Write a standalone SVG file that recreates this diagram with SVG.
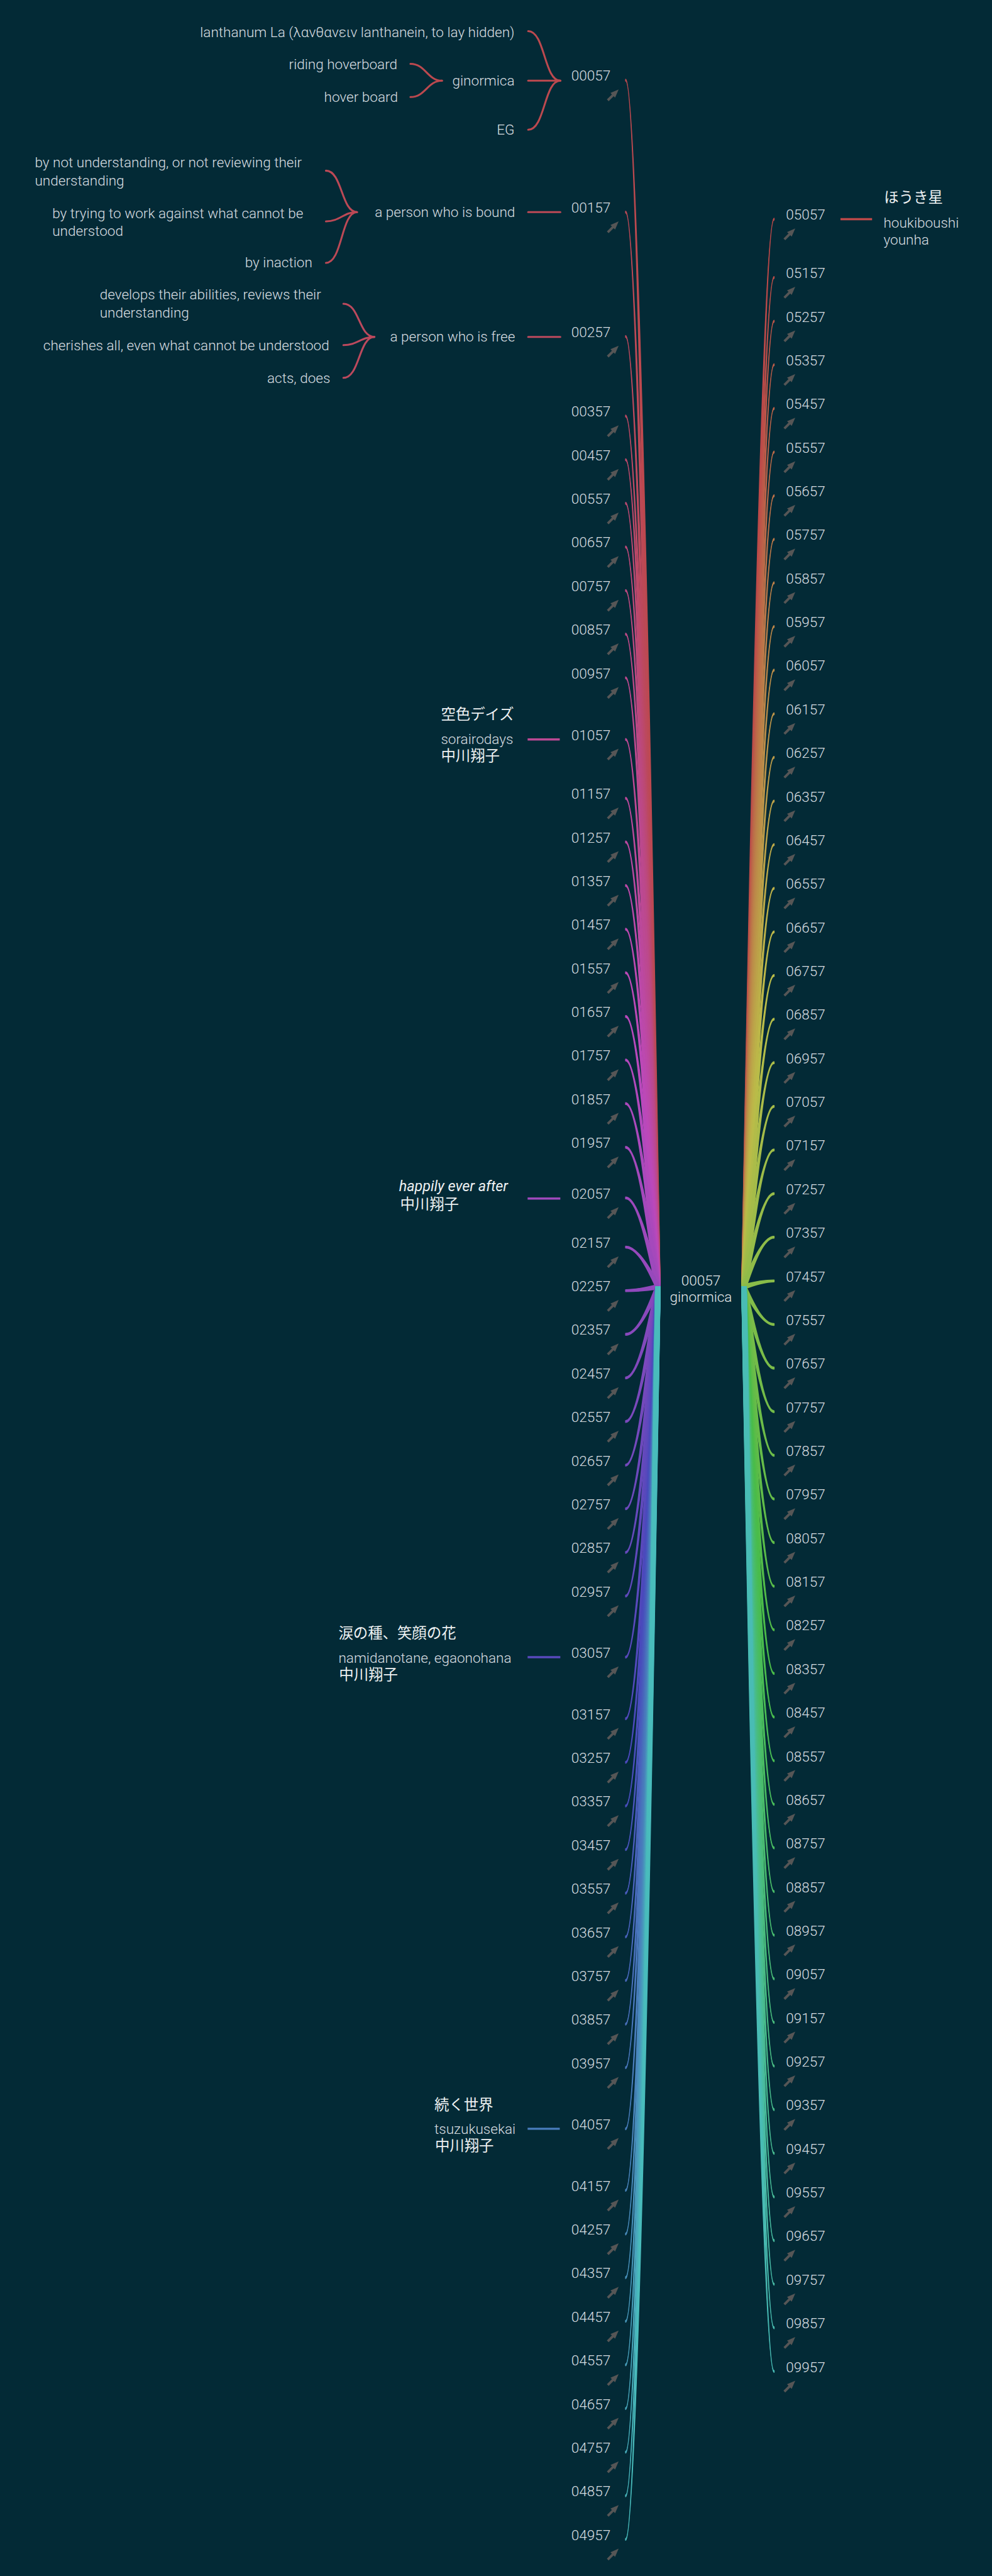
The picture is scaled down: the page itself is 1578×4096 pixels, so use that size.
<svg xmlns="http://www.w3.org/2000/svg" width="1578" height="4096" viewBox="0 0 1578 4096">
<style>
.t{font-family:Roboto,"Liberation Sans",sans-serif;font-weight:300;font-size:26px;fill:#d8dee1}
.c{font-family:Roboto,"Liberation Sans",sans-serif;font-weight:300;font-size:26px;fill:#e2e7e9;text-anchor:middle}
.j{font-family:"Noto Sans CJK JP",sans-serif;font-size:27px;fill:#eef1f2}
.i{font-family:Roboto,"Liberation Sans",sans-serif;font-style:italic;font-size:27px;fill:#eef1f2}
.e{text-anchor:end}
.cv path{fill:currentColor;stroke:currentColor;stroke-width:2.2;stroke-linejoin:round}
.br{fill:none;stroke-width:3.5;stroke-linecap:round}
.ln{fill:none;stroke-width:4}
</style>
<defs>
<path id="ic" fill="#565656" d="M23 0L8 6.5L10.65 9.15L1.45 18.35L4.65 21.55L13.85 12.35L16.5 15Z"/>
</defs>
<rect width="1578" height="4096" fill="#032a36"/>
<g transform="scale(0.86703)">
<g id="connectors">
<g class="cv">
<path color="hsl(356.4,46%,51%)" d="M1203 2360C1186.3 1253.5 1168.7 148.5 1148 148.5L1148 145.5C1168.7 145.5 1192.3 1253.5 1211 2360Z"/>
<path color="hsl(352.8,46%,51%)" d="M1203 2360C1186.3 1374.5 1168.7 390.5 1148 390.5L1148 387.5C1168.7 387.5 1192.3 1374.5 1211 2360Z"/>
<path color="hsl(349.2,46%,51%)" d="M1203 2360C1186.3 1488.5 1168.7 618.5 1148 618.5L1148 615.5C1168.7 615.5 1192.3 1488.5 1211 2360Z"/>
<path color="hsl(345.6,46%,51%)" d="M1203 2360C1186.3 1561.5 1168.7 764.5 1148 764.5L1148 761.5C1168.7 761.5 1192.3 1561.5 1211 2360Z"/>
<path color="hsl(342,46%,51%)" d="M1203 2360C1186.3 1601.5 1168.7 844.5 1148 844.5L1148 841.5C1168.7 841.5 1192.3 1601.5 1211 2360Z"/>
<path color="hsl(338.4,46%,51%)" d="M1203 2360C1186.3 1641.5 1168.7 924.5 1148 924.5L1148 921.5C1168.7 921.5 1192.3 1641.5 1211 2360Z"/>
<path color="hsl(334.8,46%,51%)" d="M1203 2360C1186.3 1681.5 1168.7 1004.5 1148 1004.5L1148 1001.5C1168.7 1001.5 1192.3 1681.5 1211 2360Z"/>
<path color="hsl(331.2,46%,51%)" d="M1203 2360C1186.3 1721.5 1168.7 1084.5 1148 1084.5L1148 1081.5C1168.7 1081.5 1192.3 1721.5 1211 2360Z"/>
<path color="hsl(327.6,46%,51%)" d="M1203 2360C1186.3 1761.5 1168.7 1164.5 1148 1164.5L1148 1161.5C1168.7 1161.5 1192.3 1761.5 1211 2360Z"/>
<path color="hsl(324,46%,51%)" d="M1203 2360C1186.3 1801.5 1168.7 1244.5 1148 1244.5L1148 1241.5C1168.7 1241.5 1192.3 1801.5 1211 2360Z"/>
<path color="hsl(320.4,46%,51%)" d="M1203 2360C1186.3 1858 1168.7 1357.5 1148 1357.5L1148 1354.5C1168.7 1354.5 1192.3 1858 1211 2360Z"/>
<path color="hsl(316.8,46%,51%)" d="M1203 2360C1186.3 1912 1168.7 1465.5 1148 1465.5L1148 1462.5C1168.7 1462.5 1192.3 1912 1211 2360Z"/>
<path color="hsl(313.2,46%,51%)" d="M1203 2360C1186.3 1952 1168.7 1545.5 1148 1545.5L1148 1542.5C1168.7 1542.5 1192.3 1952 1211 2360Z"/>
<path color="hsl(309.6,46%,51%)" d="M1203 2360C1186.3 1992 1168.7 1625.5 1148 1625.5L1148 1622.5C1168.7 1622.5 1192.3 1992 1211 2360Z"/>
<path color="hsl(306,46%,51%)" d="M1203 2360C1186.3 2032 1168.7 1705.5 1148 1705.5L1148 1702.5C1168.7 1702.5 1192.3 2032 1211 2360Z"/>
<path color="hsl(302.4,46%,51%)" d="M1203 2360C1186.3 2072 1168.7 1785.5 1148 1785.5L1148 1782.5C1168.7 1782.5 1192.3 2072 1211 2360Z"/>
<path color="hsl(298.8,46%,51%)" d="M1203 2360C1186.3 2112 1168.7 1865.5 1148 1865.5L1148 1862.5C1168.7 1862.5 1192.3 2112 1211 2360Z"/>
<path color="hsl(295.2,46%,51%)" d="M1203 2360C1186.3 2152 1168.7 1945.5 1148 1945.5L1148 1942.5C1168.7 1942.5 1192.3 2152 1211 2360Z"/>
<path color="hsl(291.6,46%,51%)" d="M1203 2360C1186.3 2192 1168.7 2025.5 1148 2025.5L1148 2022.5C1168.7 2022.5 1192.3 2192 1211 2360Z"/>
<path color="hsl(288,46%,51%)" d="M1203 2360C1186.3 2232 1168.7 2105.5 1148 2105.5L1148 2102.5C1168.7 2102.5 1192.3 2232 1211 2360Z"/>
<path color="hsl(284.4,46%,51%)" d="M1203 2360C1186.3 2278.5 1168.7 2198.5 1148 2198.5L1148 2195.5C1168.7 2195.5 1192.3 2278.5 1211 2360Z"/>
<path color="hsl(280.8,46%,51%)" d="M1203 2360C1186.3 2323.5 1168.7 2288.5 1148 2288.5L1148 2285.5C1168.7 2285.5 1192.3 2323.5 1211 2360Z"/>
<path color="hsl(277.2,46%,51%)" d="M1207 2356C1189.3 2360.5 1168.7 2365.5 1148 2365.5L1148 2368.5C1168.7 2368.5 1189.3 2366.5 1207 2364Z"/>
<path color="hsl(273.6,46%,51%)" d="M1211 2360C1192.3 2403.5 1168.7 2448.5 1148 2448.5L1148 2445.5C1168.7 2445.5 1186.3 2403.5 1203 2360Z"/>
<path color="hsl(270,46%,51%)" d="M1211 2360C1192.3 2443.5 1168.7 2528.5 1148 2528.5L1148 2525.5C1168.7 2525.5 1186.3 2443.5 1203 2360Z"/>
<path color="hsl(266.4,46%,51%)" d="M1211 2360C1192.3 2483.5 1168.7 2608.5 1148 2608.5L1148 2605.5C1168.7 2605.5 1186.3 2483.5 1203 2360Z"/>
<path color="hsl(262.8,46%,51%)" d="M1211 2360C1192.3 2523.5 1168.7 2688.5 1148 2688.5L1148 2685.5C1168.7 2685.5 1186.3 2523.5 1203 2360Z"/>
<path color="hsl(259.2,46%,51%)" d="M1211 2360C1192.3 2563.5 1168.7 2768.5 1148 2768.5L1148 2765.5C1168.7 2765.5 1186.3 2563.5 1203 2360Z"/>
<path color="hsl(255.6,46%,51%)" d="M1211 2360C1192.3 2603.5 1168.7 2848.5 1148 2848.5L1148 2845.5C1168.7 2845.5 1186.3 2603.5 1203 2360Z"/>
<path color="hsl(252,46%,51%)" d="M1211 2360C1192.3 2643.5 1168.7 2928.5 1148 2928.5L1148 2925.5C1168.7 2925.5 1186.3 2643.5 1203 2360Z"/>
<path color="hsl(248.4,46%,51%)" d="M1211 2360C1192.3 2699.5 1168.7 3040.5 1148 3040.5L1148 3037.5C1168.7 3037.5 1186.3 2699.5 1203 2360Z"/>
<path color="hsl(244.8,46%,51%)" d="M1211 2360C1192.3 2756 1168.7 3153.5 1148 3153.5L1148 3150.5C1168.7 3150.5 1186.3 2756 1203 2360Z"/>
<path color="hsl(241.2,46%,51%)" d="M1211 2360C1192.3 2796 1168.7 3233.5 1148 3233.5L1148 3230.5C1168.7 3230.5 1186.3 2796 1203 2360Z"/>
<path color="hsl(237.6,46%,51%)" d="M1211 2360C1192.3 2836 1168.7 3313.5 1148 3313.5L1148 3310.5C1168.7 3310.5 1186.3 2836 1203 2360Z"/>
<path color="hsl(234,46%,51%)" d="M1211 2360C1192.3 2876 1168.7 3393.5 1148 3393.5L1148 3390.5C1168.7 3390.5 1186.3 2876 1203 2360Z"/>
<path color="hsl(230.4,46%,51%)" d="M1211 2360C1192.3 2916 1168.7 3473.5 1148 3473.5L1148 3470.5C1168.7 3470.5 1186.3 2916 1203 2360Z"/>
<path color="hsl(226.8,46%,51%)" d="M1211 2360C1192.3 2956 1168.7 3553.5 1148 3553.5L1148 3550.5C1168.7 3550.5 1186.3 2956 1203 2360Z"/>
<path color="hsl(223.2,46%,51%)" d="M1211 2360C1192.3 2996 1168.7 3633.5 1148 3633.5L1148 3630.5C1168.7 3630.5 1186.3 2996 1203 2360Z"/>
<path color="hsl(219.6,46%,51%)" d="M1211 2360C1192.3 3036 1168.7 3713.5 1148 3713.5L1148 3710.5C1168.7 3710.5 1186.3 3036 1203 2360Z"/>
<path color="hsl(216,46%,51%)" d="M1211 2360C1192.3 3076 1168.7 3793.5 1148 3793.5L1148 3790.5C1168.7 3790.5 1186.3 3076 1203 2360Z"/>
<path color="hsl(212.4,46%,51%)" d="M1211 2360C1192.3 3132 1168.7 3905.5 1148 3905.5L1148 3902.5C1168.7 3902.5 1186.3 3132 1203 2360Z"/>
<path color="hsl(208.8,46%,51%)" d="M1211 2360C1192.3 3188.5 1168.7 4018.5 1148 4018.5L1148 4015.5C1168.7 4015.5 1186.3 3188.5 1203 2360Z"/>
<path color="hsl(205.2,46%,51%)" d="M1211 2360C1192.3 3228.5 1168.7 4098.5 1148 4098.5L1148 4095.5C1168.7 4095.5 1186.3 3228.5 1203 2360Z"/>
<path color="hsl(201.6,46%,51%)" d="M1211 2360C1192.3 3268.5 1168.7 4178.5 1148 4178.5L1148 4175.5C1168.7 4175.5 1186.3 3268.5 1203 2360Z"/>
<path color="hsl(198,46%,51%)" d="M1211 2360C1192.3 3308.5 1168.7 4258.5 1148 4258.5L1148 4255.5C1168.7 4255.5 1186.3 3308.5 1203 2360Z"/>
<path color="hsl(194.4,46%,51%)" d="M1211 2360C1192.3 3348.5 1168.7 4338.5 1148 4338.5L1148 4335.5C1168.7 4335.5 1186.3 3348.5 1203 2360Z"/>
<path color="hsl(190.8,46%,51%)" d="M1211 2360C1192.3 3388.5 1168.7 4418.5 1148 4418.5L1148 4415.5C1168.7 4415.5 1186.3 3388.5 1203 2360Z"/>
<path color="hsl(187.2,46%,51%)" d="M1211 2360C1192.3 3428.5 1168.7 4498.5 1148 4498.5L1148 4495.5C1168.7 4495.5 1186.3 3428.5 1203 2360Z"/>
<path color="hsl(183.6,46%,51%)" d="M1211 2360C1192.3 3468.5 1168.7 4578.5 1148 4578.5L1148 4575.5C1168.7 4575.5 1186.3 3468.5 1203 2360Z"/>
<path color="hsl(180,46%,51%)" d="M1211 2360C1192.3 3508.5 1168.7 4658.5 1148 4658.5L1148 4655.5C1168.7 4655.5 1186.3 3508.5 1203 2360Z"/>

<path color="hsl(0,46%,51%)" d="M1361 2360C1378.5 1381 1400.8 400.5 1420 400.5L1420 403.5C1400.8 403.5 1384.5 1381 1369 2360Z"/>
<path color="hsl(3.6,46%,51%)" d="M1361 2360C1378.5 1434.5 1400.8 507.5 1420 507.5L1420 510.5C1400.8 510.5 1384.5 1434.5 1369 2360Z"/>
<path color="hsl(7.2,46%,51%)" d="M1361 2360C1378.5 1474.5 1400.8 587.5 1420 587.5L1420 590.5C1400.8 590.5 1384.5 1474.5 1369 2360Z"/>
<path color="hsl(10.8,46%,51%)" d="M1361 2360C1378.5 1514.5 1400.8 667.5 1420 667.5L1420 670.5C1400.8 670.5 1384.5 1514.5 1369 2360Z"/>
<path color="hsl(14.4,46%,51%)" d="M1361 2360C1378.5 1554.5 1400.8 747.5 1420 747.5L1420 750.5C1400.8 750.5 1384.5 1554.5 1369 2360Z"/>
<path color="hsl(18,46%,51%)" d="M1361 2360C1378.5 1594.5 1400.8 827.5 1420 827.5L1420 830.5C1400.8 830.5 1384.5 1594.5 1369 2360Z"/>
<path color="hsl(21.6,46%,51%)" d="M1361 2360C1378.5 1634.5 1400.8 907.5 1420 907.5L1420 910.5C1400.8 910.5 1384.5 1634.5 1369 2360Z"/>
<path color="hsl(25.2,46%,51%)" d="M1361 2360C1378.5 1674.5 1400.8 987.5 1420 987.5L1420 990.5C1400.8 990.5 1384.5 1674.5 1369 2360Z"/>
<path color="hsl(28.8,46%,51%)" d="M1361 2360C1378.5 1714.5 1400.8 1067.5 1420 1067.5L1420 1070.5C1400.8 1070.5 1384.5 1714.5 1369 2360Z"/>
<path color="hsl(32.4,46%,51%)" d="M1361 2360C1378.5 1754.5 1400.8 1147.5 1420 1147.5L1420 1150.5C1400.8 1150.5 1384.5 1754.5 1369 2360Z"/>
<path color="hsl(36,46%,51%)" d="M1361 2360C1378.5 1794.5 1400.8 1227.5 1420 1227.5L1420 1230.5C1400.8 1230.5 1384.5 1794.5 1369 2360Z"/>
<path color="hsl(39.6,46%,51%)" d="M1361 2360C1378.5 1834.5 1400.8 1307.5 1420 1307.5L1420 1310.5C1400.8 1310.5 1384.5 1834.5 1369 2360Z"/>
<path color="hsl(43.2,46%,51%)" d="M1361 2360C1378.5 1874.5 1400.8 1387.5 1420 1387.5L1420 1390.5C1400.8 1390.5 1384.5 1874.5 1369 2360Z"/>
<path color="hsl(46.8,46%,51%)" d="M1361 2360C1378.5 1914.5 1400.8 1467.5 1420 1467.5L1420 1470.5C1400.8 1470.5 1384.5 1914.5 1369 2360Z"/>
<path color="hsl(50.4,46%,51%)" d="M1361 2360C1378.5 1954.5 1400.8 1547.5 1420 1547.5L1420 1550.5C1400.8 1550.5 1384.5 1954.5 1369 2360Z"/>
<path color="hsl(54,46%,51%)" d="M1361 2360C1378.5 1994.5 1400.8 1627.5 1420 1627.5L1420 1630.5C1400.8 1630.5 1384.5 1994.5 1369 2360Z"/>
<path color="hsl(57.6,46%,51%)" d="M1361 2360C1378.5 2034.5 1400.8 1707.5 1420 1707.5L1420 1710.5C1400.8 1710.5 1384.5 2034.5 1369 2360Z"/>
<path color="hsl(61.2,46%,51%)" d="M1361 2360C1378.5 2074.5 1400.8 1787.5 1420 1787.5L1420 1790.5C1400.8 1790.5 1384.5 2074.5 1369 2360Z"/>
<path color="hsl(64.8,46%,51%)" d="M1361 2360C1378.5 2114.5 1400.8 1867.5 1420 1867.5L1420 1870.5C1400.8 1870.5 1384.5 2114.5 1369 2360Z"/>
<path color="hsl(68.4,46%,51%)" d="M1361 2360C1378.5 2154.5 1400.8 1947.5 1420 1947.5L1420 1950.5C1400.8 1950.5 1384.5 2154.5 1369 2360Z"/>
<path color="hsl(72,46%,51%)" d="M1361 2360C1378.5 2194.5 1400.8 2027.5 1420 2027.5L1420 2030.5C1400.8 2030.5 1384.5 2194.5 1369 2360Z"/>
<path color="hsl(75.6,46%,51%)" d="M1361 2360C1378.5 2234.5 1400.8 2107.5 1420 2107.5L1420 2110.5C1400.8 2110.5 1384.5 2234.5 1369 2360Z"/>
<path color="hsl(79.2,46%,51%)" d="M1361 2360C1378.5 2274.5 1400.8 2187.5 1420 2187.5L1420 2190.5C1400.8 2190.5 1384.5 2274.5 1369 2360Z"/>
<path color="hsl(82.8,46%,51%)" d="M1361 2360C1378.5 2314.5 1400.8 2267.5 1420 2267.5L1420 2270.5C1400.8 2270.5 1384.5 2314.5 1369 2360Z"/>
<path color="hsl(86.4,46%,51%)" d="M1365 2356C1381.5 2351.5 1400.8 2347.5 1420 2347.5L1420 2350.5C1400.8 2350.5 1381.5 2357.5 1365 2364Z"/>
<path color="hsl(90,46%,51%)" d="M1369 2360C1384.5 2394.5 1400.8 2427.5 1420 2427.5L1420 2430.5C1400.8 2430.5 1378.5 2394.5 1361 2360Z"/>
<path color="hsl(93.6,46%,51%)" d="M1369 2360C1384.5 2434.5 1400.8 2507.5 1420 2507.5L1420 2510.5C1400.8 2510.5 1378.5 2434.5 1361 2360Z"/>
<path color="hsl(97.2,46%,51%)" d="M1369 2360C1384.5 2474.5 1400.8 2587.5 1420 2587.5L1420 2590.5C1400.8 2590.5 1378.5 2474.5 1361 2360Z"/>
<path color="hsl(100.8,46%,51%)" d="M1369 2360C1384.5 2514.5 1400.8 2667.5 1420 2667.5L1420 2670.5C1400.8 2670.5 1378.5 2514.5 1361 2360Z"/>
<path color="hsl(104.4,46%,51%)" d="M1369 2360C1384.5 2554.5 1400.8 2747.5 1420 2747.5L1420 2750.5C1400.8 2750.5 1378.5 2554.5 1361 2360Z"/>
<path color="hsl(108,46%,51%)" d="M1369 2360C1384.5 2594.5 1400.8 2827.5 1420 2827.5L1420 2830.5C1400.8 2830.5 1378.5 2594.5 1361 2360Z"/>
<path color="hsl(111.6,46%,51%)" d="M1369 2360C1384.5 2634.5 1400.8 2907.5 1420 2907.5L1420 2910.5C1400.8 2910.5 1378.5 2634.5 1361 2360Z"/>
<path color="hsl(115.2,46%,51%)" d="M1369 2360C1384.5 2674.5 1400.8 2987.5 1420 2987.5L1420 2990.5C1400.8 2990.5 1378.5 2674.5 1361 2360Z"/>
<path color="hsl(118.8,46%,51%)" d="M1369 2360C1384.5 2714.5 1400.8 3067.5 1420 3067.5L1420 3070.5C1400.8 3070.5 1378.5 2714.5 1361 2360Z"/>
<path color="hsl(122.4,46%,51%)" d="M1369 2360C1384.5 2754.5 1400.8 3147.5 1420 3147.5L1420 3150.5C1400.8 3150.5 1378.5 2754.5 1361 2360Z"/>
<path color="hsl(126,46%,51%)" d="M1369 2360C1384.5 2794.5 1400.8 3227.5 1420 3227.5L1420 3230.5C1400.8 3230.5 1378.5 2794.5 1361 2360Z"/>
<path color="hsl(129.6,46%,51%)" d="M1369 2360C1384.5 2834.5 1400.8 3307.5 1420 3307.5L1420 3310.5C1400.8 3310.5 1378.5 2834.5 1361 2360Z"/>
<path color="hsl(133.2,46%,51%)" d="M1369 2360C1384.5 2874.5 1400.8 3387.5 1420 3387.5L1420 3390.5C1400.8 3390.5 1378.5 2874.5 1361 2360Z"/>
<path color="hsl(136.8,46%,51%)" d="M1369 2360C1384.5 2914.5 1400.8 3467.5 1420 3467.5L1420 3470.5C1400.8 3470.5 1378.5 2914.5 1361 2360Z"/>
<path color="hsl(140.4,46%,51%)" d="M1369 2360C1384.5 2954.5 1400.8 3547.5 1420 3547.5L1420 3550.5C1400.8 3550.5 1378.5 2954.5 1361 2360Z"/>
<path color="hsl(144,46%,51%)" d="M1369 2360C1384.5 2994.5 1400.8 3627.5 1420 3627.5L1420 3630.5C1400.8 3630.5 1378.5 2994.5 1361 2360Z"/>
<path color="hsl(147.6,46%,51%)" d="M1369 2360C1384.5 3034.5 1400.8 3707.5 1420 3707.5L1420 3710.5C1400.8 3710.5 1378.5 3034.5 1361 2360Z"/>
<path color="hsl(151.2,46%,51%)" d="M1369 2360C1384.5 3074.5 1400.8 3787.5 1420 3787.5L1420 3790.5C1400.8 3790.5 1378.5 3074.5 1361 2360Z"/>
<path color="hsl(154.8,46%,51%)" d="M1369 2360C1384.5 3114.5 1400.8 3867.5 1420 3867.5L1420 3870.5C1400.8 3870.5 1378.5 3114.5 1361 2360Z"/>
<path color="hsl(158.4,46%,51%)" d="M1369 2360C1384.5 3154.5 1400.8 3947.5 1420 3947.5L1420 3950.5C1400.8 3950.5 1378.5 3154.5 1361 2360Z"/>
<path color="hsl(162,46%,51%)" d="M1369 2360C1384.5 3194.5 1400.8 4027.5 1420 4027.5L1420 4030.5C1400.8 4030.5 1378.5 3194.5 1361 2360Z"/>
<path color="hsl(165.6,46%,51%)" d="M1369 2360C1384.5 3234.5 1400.8 4107.5 1420 4107.5L1420 4110.5C1400.8 4110.5 1378.5 3234.5 1361 2360Z"/>
<path color="hsl(169.2,46%,51%)" d="M1369 2360C1384.5 3274.5 1400.8 4187.5 1420 4187.5L1420 4190.5C1400.8 4190.5 1378.5 3274.5 1361 2360Z"/>
<path color="hsl(172.8,46%,51%)" d="M1369 2360C1384.5 3314.5 1400.8 4267.5 1420 4267.5L1420 4270.5C1400.8 4270.5 1378.5 3314.5 1361 2360Z"/>
<path color="hsl(176.4,46%,51%)" d="M1369 2360C1384.5 3354.5 1400.8 4347.5 1420 4347.5L1420 4350.5C1400.8 4350.5 1378.5 3354.5 1361 2360Z"/>
</g>

<g class="br" stroke="hsl(356.4,46%,51%)">
<path d="M969 57C1000 57 998 148 1028 148"/>
<path d="M969 238C1000 238 998 148 1028 148"/>
<path d="M969 148L1028 148"/>
<path d="M753 117C781 117 784 148 811 148"/>
<path d="M753 178C781 178 784 148 811 148"/>
</g>
<g class="br" stroke="hsl(352.8,46%,51%)">
<path d="M969 389L1028 389"/>
<path d="M598 313C628 313 626 389 655 389"/>
<path d="M598 406C624 406 630 389 655 389"/>
<path d="M598 482C628 482 626 389 655 389"/>
</g>
<g class="br" stroke="hsl(349.2,46%,51%)">
<path d="M969 618L1028 618"/>
<path d="M630 557C660 557 658 618 687 618"/>
<path d="M630 633C656 633 662 618 687 618"/>
<path d="M630 693C660 693 658 618 687 618"/>
</g>
<path class="ln" stroke="hsl(320.4,46%,51%)" d="M968 1356L1027 1356"/>
<path class="ln" stroke="hsl(284.4,46%,51%)" d="M968 2198L1028 2198"/>
<path class="ln" stroke="hsl(248.4,46%,51%)" d="M968 3039L1028 3039"/>
<path class="ln" stroke="hsl(212.4,46%,51%)" d="M968 3904L1027 3904"/>
<path class="ln" stroke="hsl(0,46%,51%)" d="M1542 402L1600 402"/>
</g>

<g id="center"><text class="c" x="1286" y="2357">00057</text><text class="c" x="1286" y="2388">ginormica</text></g>

<g id="sub-00057">
<text class="t e" x="944" y="68">lanthanum La (λανθανειν lanthanein, to lay hidden)</text>
<text class="t e" x="944" y="157">ginormica</text>
<text class="t e" x="944" y="247">EG</text>
<text class="t e" x="729" y="127">riding hoverboard</text>
<text class="t e" x="730" y="187">hover board</text>
</g>
<g id="sub-00157">
<text class="t e" x="945" y="398">a person who is bound</text>
<text class="t" x="64" y="307">by not understanding, or not reviewing their</text>
<text class="t" x="64" y="340">understanding</text>
<text class="t" x="96" y="400">by trying to work against what cannot be</text>
<text class="t" x="96" y="432">understood</text>
<text class="t e" x="573" y="490">by inaction</text>
</g>
<g id="sub-00257">
<text class="t e" x="945" y="626">a person who is free</text>
<text class="t" x="183" y="549">develops their abilities, reviews their</text>
<text class="t" x="183" y="583">understanding</text>
<text class="t e" x="604" y="642">cherishes all, even what cannot be understood</text>
<text class="t e" x="606" y="702">acts, does</text>
</g>
<g id="sub-01057">
<text class="j" x="809" y="1320">空色デイズ</text>
<text class="t" x="809" y="1365">sorairodays</text>
<text class="j" x="809" y="1396">中川翔子</text>
</g>
<g id="sub-02057">
<text class="i" x="732" y="2185">happily ever after</text>
<text class="j" x="734" y="2218">中川翔子</text>
</g>
<g id="sub-03057">
<text class="j" x="621" y="3005">涙の種、笑顔の花</text>
<text class="t" x="621" y="3049">namidanotane, egaonohana</text>
<text class="j" x="622" y="3081">中川翔子</text>
</g>
<g id="sub-04057">
<text class="j" x="797" y="3869">続く世界</text>
<text class="t" x="797" y="3913">tsuzukusekai</text>
<text class="j" x="798" y="3945">中川翔子</text>
</g>
<g id="sub-05057">
<text class="j" x="1622" y="371">ほうき星</text>
<text class="t" x="1621" y="417">houkiboushi</text>
<text class="t" x="1621" y="449">younha</text>
</g>

<g id="n00057"><text class="t" x="1048" y="148">00057</text><use href="#ic" x="1112" y="164"/></g>
<g id="n00157"><text class="t" x="1048" y="390">00157</text><use href="#ic" x="1112" y="406"/></g>
<g id="n00257"><text class="t" x="1048" y="618">00257</text><use href="#ic" x="1112" y="634"/></g>
<g id="n00357"><text class="t" x="1048" y="764">00357</text><use href="#ic" x="1112" y="780"/></g>
<g id="n00457"><text class="t" x="1048" y="844">00457</text><use href="#ic" x="1112" y="860"/></g>
<g id="n00557"><text class="t" x="1048" y="924">00557</text><use href="#ic" x="1112" y="940"/></g>
<g id="n00657"><text class="t" x="1048" y="1004">00657</text><use href="#ic" x="1112" y="1020"/></g>
<g id="n00757"><text class="t" x="1048" y="1084">00757</text><use href="#ic" x="1112" y="1100"/></g>
<g id="n00857"><text class="t" x="1048" y="1164">00857</text><use href="#ic" x="1112" y="1180"/></g>
<g id="n00957"><text class="t" x="1048" y="1244">00957</text><use href="#ic" x="1112" y="1260"/></g>
<g id="n01057"><text class="t" x="1048" y="1357">01057</text><use href="#ic" x="1112" y="1373"/></g>
<g id="n01157"><text class="t" x="1048" y="1465">01157</text><use href="#ic" x="1112" y="1481"/></g>
<g id="n01257"><text class="t" x="1048" y="1545">01257</text><use href="#ic" x="1112" y="1561"/></g>
<g id="n01357"><text class="t" x="1048" y="1625">01357</text><use href="#ic" x="1112" y="1641"/></g>
<g id="n01457"><text class="t" x="1048" y="1705">01457</text><use href="#ic" x="1112" y="1721"/></g>
<g id="n01557"><text class="t" x="1048" y="1785">01557</text><use href="#ic" x="1112" y="1801"/></g>
<g id="n01657"><text class="t" x="1048" y="1865">01657</text><use href="#ic" x="1112" y="1881"/></g>
<g id="n01757"><text class="t" x="1048" y="1945">01757</text><use href="#ic" x="1112" y="1961"/></g>
<g id="n01857"><text class="t" x="1048" y="2025">01857</text><use href="#ic" x="1112" y="2041"/></g>
<g id="n01957"><text class="t" x="1048" y="2105">01957</text><use href="#ic" x="1112" y="2121"/></g>
<g id="n02057"><text class="t" x="1048" y="2198">02057</text><use href="#ic" x="1112" y="2214"/></g>
<g id="n02157"><text class="t" x="1048" y="2288">02157</text><use href="#ic" x="1112" y="2304"/></g>
<g id="n02257"><text class="t" x="1048" y="2368">02257</text><use href="#ic" x="1112" y="2384"/></g>
<g id="n02357"><text class="t" x="1048" y="2448">02357</text><use href="#ic" x="1112" y="2464"/></g>
<g id="n02457"><text class="t" x="1048" y="2528">02457</text><use href="#ic" x="1112" y="2544"/></g>
<g id="n02557"><text class="t" x="1048" y="2608">02557</text><use href="#ic" x="1112" y="2624"/></g>
<g id="n02657"><text class="t" x="1048" y="2688">02657</text><use href="#ic" x="1112" y="2704"/></g>
<g id="n02757"><text class="t" x="1048" y="2768">02757</text><use href="#ic" x="1112" y="2784"/></g>
<g id="n02857"><text class="t" x="1048" y="2848">02857</text><use href="#ic" x="1112" y="2864"/></g>
<g id="n02957"><text class="t" x="1048" y="2928">02957</text><use href="#ic" x="1112" y="2944"/></g>
<g id="n03057"><text class="t" x="1048" y="3040">03057</text><use href="#ic" x="1112" y="3056"/></g>
<g id="n03157"><text class="t" x="1048" y="3153">03157</text><use href="#ic" x="1112" y="3169"/></g>
<g id="n03257"><text class="t" x="1048" y="3233">03257</text><use href="#ic" x="1112" y="3249"/></g>
<g id="n03357"><text class="t" x="1048" y="3313">03357</text><use href="#ic" x="1112" y="3329"/></g>
<g id="n03457"><text class="t" x="1048" y="3393">03457</text><use href="#ic" x="1112" y="3409"/></g>
<g id="n03557"><text class="t" x="1048" y="3473">03557</text><use href="#ic" x="1112" y="3489"/></g>
<g id="n03657"><text class="t" x="1048" y="3553">03657</text><use href="#ic" x="1112" y="3569"/></g>
<g id="n03757"><text class="t" x="1048" y="3633">03757</text><use href="#ic" x="1112" y="3649"/></g>
<g id="n03857"><text class="t" x="1048" y="3713">03857</text><use href="#ic" x="1112" y="3729"/></g>
<g id="n03957"><text class="t" x="1048" y="3793">03957</text><use href="#ic" x="1112" y="3809"/></g>
<g id="n04057"><text class="t" x="1048" y="3905">04057</text><use href="#ic" x="1112" y="3921"/></g>
<g id="n04157"><text class="t" x="1048" y="4018">04157</text><use href="#ic" x="1112" y="4034"/></g>
<g id="n04257"><text class="t" x="1048" y="4098">04257</text><use href="#ic" x="1112" y="4114"/></g>
<g id="n04357"><text class="t" x="1048" y="4178">04357</text><use href="#ic" x="1112" y="4194"/></g>
<g id="n04457"><text class="t" x="1048" y="4258">04457</text><use href="#ic" x="1112" y="4274"/></g>
<g id="n04557"><text class="t" x="1048" y="4338">04557</text><use href="#ic" x="1112" y="4354"/></g>
<g id="n04657"><text class="t" x="1048" y="4418">04657</text><use href="#ic" x="1112" y="4434"/></g>
<g id="n04757"><text class="t" x="1048" y="4498">04757</text><use href="#ic" x="1112" y="4514"/></g>
<g id="n04857"><text class="t" x="1048" y="4578">04857</text><use href="#ic" x="1112" y="4594"/></g>
<g id="n04957"><text class="t" x="1048" y="4658">04957</text><use href="#ic" x="1112" y="4674"/></g>

<g id="n05057"><text class="t" x="1442" y="403">05057</text><use href="#ic" x="1436" y="419"/></g>
<g id="n05157"><text class="t" x="1442" y="510">05157</text><use href="#ic" x="1436" y="526"/></g>
<g id="n05257"><text class="t" x="1442" y="590">05257</text><use href="#ic" x="1436" y="606"/></g>
<g id="n05357"><text class="t" x="1442" y="670">05357</text><use href="#ic" x="1436" y="686"/></g>
<g id="n05457"><text class="t" x="1442" y="750">05457</text><use href="#ic" x="1436" y="766"/></g>
<g id="n05557"><text class="t" x="1442" y="830">05557</text><use href="#ic" x="1436" y="846"/></g>
<g id="n05657"><text class="t" x="1442" y="910">05657</text><use href="#ic" x="1436" y="926"/></g>
<g id="n05757"><text class="t" x="1442" y="990">05757</text><use href="#ic" x="1436" y="1006"/></g>
<g id="n05857"><text class="t" x="1442" y="1070">05857</text><use href="#ic" x="1436" y="1086"/></g>
<g id="n05957"><text class="t" x="1442" y="1150">05957</text><use href="#ic" x="1436" y="1166"/></g>
<g id="n06057"><text class="t" x="1442" y="1230">06057</text><use href="#ic" x="1436" y="1246"/></g>
<g id="n06157"><text class="t" x="1442" y="1310">06157</text><use href="#ic" x="1436" y="1326"/></g>
<g id="n06257"><text class="t" x="1442" y="1390">06257</text><use href="#ic" x="1436" y="1406"/></g>
<g id="n06357"><text class="t" x="1442" y="1470">06357</text><use href="#ic" x="1436" y="1486"/></g>
<g id="n06457"><text class="t" x="1442" y="1550">06457</text><use href="#ic" x="1436" y="1566"/></g>
<g id="n06557"><text class="t" x="1442" y="1630">06557</text><use href="#ic" x="1436" y="1646"/></g>
<g id="n06657"><text class="t" x="1442" y="1710">06657</text><use href="#ic" x="1436" y="1726"/></g>
<g id="n06757"><text class="t" x="1442" y="1790">06757</text><use href="#ic" x="1436" y="1806"/></g>
<g id="n06857"><text class="t" x="1442" y="1870">06857</text><use href="#ic" x="1436" y="1886"/></g>
<g id="n06957"><text class="t" x="1442" y="1950">06957</text><use href="#ic" x="1436" y="1966"/></g>
<g id="n07057"><text class="t" x="1442" y="2030">07057</text><use href="#ic" x="1436" y="2046"/></g>
<g id="n07157"><text class="t" x="1442" y="2110">07157</text><use href="#ic" x="1436" y="2126"/></g>
<g id="n07257"><text class="t" x="1442" y="2190">07257</text><use href="#ic" x="1436" y="2206"/></g>
<g id="n07357"><text class="t" x="1442" y="2270">07357</text><use href="#ic" x="1436" y="2286"/></g>
<g id="n07457"><text class="t" x="1442" y="2350">07457</text><use href="#ic" x="1436" y="2366"/></g>
<g id="n07557"><text class="t" x="1442" y="2430">07557</text><use href="#ic" x="1436" y="2446"/></g>
<g id="n07657"><text class="t" x="1442" y="2510">07657</text><use href="#ic" x="1436" y="2526"/></g>
<g id="n07757"><text class="t" x="1442" y="2590">07757</text><use href="#ic" x="1436" y="2606"/></g>
<g id="n07857"><text class="t" x="1442" y="2670">07857</text><use href="#ic" x="1436" y="2686"/></g>
<g id="n07957"><text class="t" x="1442" y="2750">07957</text><use href="#ic" x="1436" y="2766"/></g>
<g id="n08057"><text class="t" x="1442" y="2830">08057</text><use href="#ic" x="1436" y="2846"/></g>
<g id="n08157"><text class="t" x="1442" y="2910">08157</text><use href="#ic" x="1436" y="2926"/></g>
<g id="n08257"><text class="t" x="1442" y="2990">08257</text><use href="#ic" x="1436" y="3006"/></g>
<g id="n08357"><text class="t" x="1442" y="3070">08357</text><use href="#ic" x="1436" y="3086"/></g>
<g id="n08457"><text class="t" x="1442" y="3150">08457</text><use href="#ic" x="1436" y="3166"/></g>
<g id="n08557"><text class="t" x="1442" y="3230">08557</text><use href="#ic" x="1436" y="3246"/></g>
<g id="n08657"><text class="t" x="1442" y="3310">08657</text><use href="#ic" x="1436" y="3326"/></g>
<g id="n08757"><text class="t" x="1442" y="3390">08757</text><use href="#ic" x="1436" y="3406"/></g>
<g id="n08857"><text class="t" x="1442" y="3470">08857</text><use href="#ic" x="1436" y="3486"/></g>
<g id="n08957"><text class="t" x="1442" y="3550">08957</text><use href="#ic" x="1436" y="3566"/></g>
<g id="n09057"><text class="t" x="1442" y="3630">09057</text><use href="#ic" x="1436" y="3646"/></g>
<g id="n09157"><text class="t" x="1442" y="3710">09157</text><use href="#ic" x="1436" y="3726"/></g>
<g id="n09257"><text class="t" x="1442" y="3790">09257</text><use href="#ic" x="1436" y="3806"/></g>
<g id="n09357"><text class="t" x="1442" y="3870">09357</text><use href="#ic" x="1436" y="3886"/></g>
<g id="n09457"><text class="t" x="1442" y="3950">09457</text><use href="#ic" x="1436" y="3966"/></g>
<g id="n09557"><text class="t" x="1442" y="4030">09557</text><use href="#ic" x="1436" y="4046"/></g>
<g id="n09657"><text class="t" x="1442" y="4110">09657</text><use href="#ic" x="1436" y="4126"/></g>
<g id="n09757"><text class="t" x="1442" y="4190">09757</text><use href="#ic" x="1436" y="4206"/></g>
<g id="n09857"><text class="t" x="1442" y="4270">09857</text><use href="#ic" x="1436" y="4286"/></g>
<g id="n09957"><text class="t" x="1442" y="4350">09957</text><use href="#ic" x="1436" y="4366"/></g>
</g>
</svg>
